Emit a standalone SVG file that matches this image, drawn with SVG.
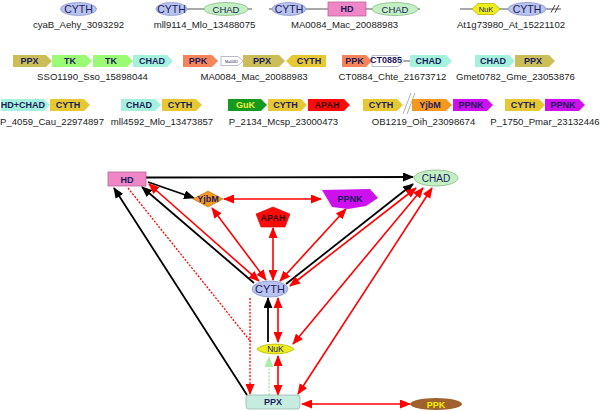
<svg xmlns="http://www.w3.org/2000/svg" width="600" height="411" viewBox="0 0 600 411">
<style>
text{font-family:"Liberation Sans",Arial,sans-serif;fill:#1c1c5c;text-anchor:middle}
.lbl{font-size:9.6px;fill:#222}
.b{font-weight:bold;font-size:9px}
.cyth{fill:#b9c3ef;stroke:#8a96cc;stroke-width:0.8}
.chadE{fill:#c3f0c3;stroke:#86b886;stroke-width:0.8}
.hd{fill:#ef86c6;stroke:#b86898;stroke-width:0.8}
.nuk{fill:#eeee1e;stroke:#b8b800;stroke-width:0.8}
.ppx{fill:#cbbd58}
.tk{fill:#9cfb74}
.chad{fill:#a4f2de}
.ppk{fill:#f5845a}
.gold{fill:#e6c832}
.guk{fill:#149a1e}
.apah{fill:#ff0a0a}
.yjbm{fill:#f5981e}
.ppnk{fill:#cc11ee}
.wht{fill:#fff;stroke:#8a8ab0;stroke-width:0.6}
.ln{stroke:#555;stroke-width:1;fill:none}
.blk{stroke:#000;stroke-width:1.8;fill:none}
.red{stroke:#ff0000;stroke-width:1.6;fill:none}
.rdot{stroke:#ff0000;stroke-width:1.3;stroke-dasharray:2 1.5;fill:none}
.gdot{stroke:#a8f0a8;stroke-width:1.5;stroke-dasharray:2 1.5;fill:none}
</style>
<defs>
<marker id="ak" markerUnits="userSpaceOnUse" markerWidth="11" markerHeight="9" refX="10" refY="4.5" orient="auto-start-reverse"><path d="M0,0 L11,4.5 L0,9 z" fill="#000"/></marker>
<marker id="ar" markerUnits="userSpaceOnUse" markerWidth="11" markerHeight="9" refX="10" refY="4.5" orient="auto-start-reverse"><path d="M0,0 L11,4.5 L0,9 z" fill="#ff0000"/></marker>
<marker id="ag" markerUnits="userSpaceOnUse" markerWidth="11" markerHeight="9" refX="10" refY="4.5" orient="auto-start-reverse"><path d="M0,0 L11,4.5 L0,9 z" fill="#a8f0a8"/></marker>
</defs>

<!-- Row 1 -->
<g id="cyaB">
<ellipse class="cyth" cx="78.5" cy="9" rx="18" ry="6.5"/>
<text x="78.5" y="13" font-size="10.5">CYTH</text>
<text class="lbl" x="78.5" y="28">cyaB_Aehy_3093292</text>
</g>
<g id="mll9114">
<line class="ln" x1="187" y1="9" x2="252" y2="9"/>
<ellipse class="cyth" cx="171.5" cy="9" rx="15.5" ry="6.5"/>
<text x="171.5" y="13" font-size="10.5">CYTH</text>
<ellipse class="chadE" cx="226" cy="9" rx="22" ry="6.5"/>
<text x="226" y="12.5" font-size="9.5">CHAD</text>
<text class="lbl" x="204.5" y="28">mll9114_Mlo_13488075</text>
</g>
<g id="MA0084a">
<line class="ln" x1="269" y1="9" x2="420" y2="9"/>
<ellipse class="cyth" cx="289" cy="9" rx="17" ry="6.5"/>
<text x="289" y="13" font-size="10.5">CYTH</text>
<rect class="hd" x="328" y="2" width="38" height="14"/>
<text class="b" x="347" y="12.3">HD</text>
<ellipse class="chadE" cx="395" cy="9" rx="23" ry="6.5"/>
<text x="395" y="12.5" font-size="9.5">CHAD</text>
<text class="lbl" x="344.5" y="28">MA0084_Mac_20088983</text>
</g>
<g id="At1g73980">
<line class="ln" x1="460" y1="9" x2="561" y2="9"/>
<path class="nuk" d="M472,9 L478,3.5 L494,3.5 L500,9 L494,14.5 L478,14.5 Z"/>
<text x="486" y="12" font-size="7.5">NuK</text>
<ellipse class="cyth" cx="527" cy="9" rx="19" ry="6.5"/>
<text x="527" y="13" font-size="10.5">CYTH</text>
<path d="M551,12.5 L555,5 M555,12.5 L559,5" stroke="#333" stroke-width="0.9"/>
<text class="lbl" x="511" y="28">At1g73980_At_15221102</text>
</g>

<!-- Row 2 -->
<g id="SSO1190">
<polygon class="ppx" points="13,55 46,55 52,61 46,67 13,67"/>
<polygon class="tk" points="52,55 86,55 92,61 86,67 52,67"/>
<polygon class="tk" points="93,55 127,55 133,61 127,67 93,67"/>
<polygon class="chad" points="133,55 167,55 173,61 167,67 133,67"/>
<text class="b" x="29.5" y="64.3">PPX</text>
<text class="b" x="70" y="64.3">TK</text>
<text class="b" x="111" y="64.3">TK</text>
<text class="b" x="152" y="64.3">CHAD</text>
<text class="lbl" x="92.5" y="80">SSO1190_Sso_15898044</text>
</g>
<g id="MA0084b">
<polygon class="ppk" points="183,55 212,55 218,61 212,67 183,67"/>
<polygon class="wht" points="221,56.5 238,56.5 243,61 238,65.5 221,65.5"/>
<polygon class="ppx" points="243,55 279,55 285,61 279,67 243,67"/>
<polygon class="gold" points="286,61 292,55 326,55 326,67 292,67"/>
<text class="b" x="198" y="64.3">PPK</text>
<text x="231.5" y="62.5" font-size="3.6">Ma0082</text>
<text class="b" x="262" y="64.3">PPX</text>
<text class="b" x="309" y="64.3">CYTH</text>
<text class="lbl" x="254" y="80">MA0084_Mac_20088983</text>
</g>
<g id="CT0884">
<polygon class="ppk" points="342,55 366,55 372,61 366,67 342,67"/>
<polygon class="wht" points="372,55.5 398,55.5 404,61 398,66.5 372,66.5"/>
<line class="ln" x1="404" y1="61" x2="410" y2="61"/>
<polygon class="chad" points="410,55 446,55 452,61 446,67 410,67"/>
<text class="b" x="354.5" y="64.3">PPK</text>
<text class="b" x="386" y="63.3" font-size="5.4">CT0885</text>
<text class="b" x="428.5" y="64.3">CHAD</text>
<text class="lbl" x="392.5" y="80">CT0884_Chte_21673712</text>
</g>
<g id="Gmet0782">
<polygon class="chad" points="475,55 509,55 515,61 509,67 475,67"/>
<polygon class="ppx" points="515,55 549,55 555,61 549,67 515,67"/>
<text class="b" x="493" y="64.3">CHAD</text>
<text class="b" x="533" y="64.3">PPX</text>
<text class="lbl" x="515.5" y="79.5">Gmet0782_Gme_23053876</text>
</g>

<!-- Row 3 -->
<g id="P_4059">
<polygon class="chad" points="1,99 44,99 50,105 44,111 1,111"/>
<polygon class="gold" points="50,99 84,99 90,105 84,111 50,111"/>
<text class="b" x="23" y="108.2" font-size="8.4">HD+CHAD</text>
<text class="b" x="68" y="108.3">CYTH</text>
<text class="lbl" x="52" y="125">P_4059_Cau_22974897</text>
</g>
<g id="mll4592">
<polygon class="chad" points="121,99 155,99 161,105 155,111 121,111"/>
<polygon class="gold" points="162,99 196,99 202,105 196,111 162,111"/>
<text class="b" x="139" y="108.3">CHAD</text>
<text class="b" x="180" y="108.3">CYTH</text>
<text class="lbl" x="162" y="125">mll4592_Mlo_13473857</text>
</g>
<g id="P_2134">
<polygon class="guk" points="228,99 261,99 267,105 261,111 228,111"/>
<polygon class="gold" points="268,99 301,99 307,105 301,111 268,111"/>
<polygon class="apah" points="308,99 344,99 350,105 344,111 308,111"/>
<text class="b" x="245.5" y="108.3" style="fill:#f0f040">GuK</text>
<text class="b" x="285.5" y="108.3">CYTH</text>
<text class="b" x="327" y="108.3" style="fill:#3a0000">APAH</text>
<text class="lbl" x="283.5" y="125">P_2134_Mcsp_23000473</text>
</g>
<g id="OB1219">
<polygon class="gold" points="363,99 397,99 403,105 397,111 363,111"/>
<path d="M403,114 L411,93 M407,114 L415,93" stroke="#999" stroke-width="0.8"/>
<polygon class="yjbm" points="412,99 446,99 452,105 446,111 412,111"/>
<polygon class="ppnk" points="453,99 487,99 493,105 487,111 453,111"/>
<text class="b" x="381" y="108.3">CYTH</text>
<text class="b" x="430" y="108.3">YjbM</text>
<text class="b" x="471" y="108.3">PPNK</text>
<text class="lbl" x="423.5" y="125">OB1219_Oih_23098674</text>
</g>
<g id="P_1750">
<polygon class="gold" points="505,99 539,99 545,105 539,111 505,111"/>
<polygon class="ppnk" points="545,99 579,99 585,105 579,111 545,111"/>
<text class="b" x="523" y="108.3">CYTH</text>
<text class="b" x="563" y="108.3">PPNK</text>
<text class="lbl" x="545" y="124.5">P_1750_Pmar_23132446</text>
</g>

<!-- Connectors -->
<g id="connectors">
<line class="rdot" x1="128" y1="188" x2="251" y2="342"/>
<line class="rdot" x1="250" y1="298" x2="250" y2="394" marker-end="url(#ar)"/>
<line class="gdot" x1="269" y1="395" x2="269" y2="357" marker-end="url(#ag)"/>
<line class="blk" x1="146" y1="177.5" x2="413" y2="177" marker-end="url(#ak)"/>
<line class="blk" x1="148" y1="182" x2="194" y2="198" marker-end="url(#ak)"/>
<line class="blk" x1="254" y1="283" x2="142" y2="187" marker-end="url(#ak)"/>
<line class="blk" x1="247" y1="395" x2="114" y2="188" marker-end="url(#ak)"/>
<line class="blk" x1="286" y1="284" x2="413" y2="184" marker-end="url(#ak)"/>
<line class="blk" x1="268" y1="342" x2="268" y2="298" marker-end="url(#ak)"/>
<line class="red" x1="149" y1="184" x2="259" y2="281" marker-start="url(#ar)" marker-end="url(#ar)"/>
<line class="red" x1="224" y1="199" x2="321" y2="199" marker-start="url(#ar)" marker-end="url(#ar)"/>
<line class="red" x1="212" y1="208" x2="266" y2="280" marker-start="url(#ar)" marker-end="url(#ar)"/>
<line class="red" x1="273" y1="228" x2="273" y2="280" marker-start="url(#ar)" marker-end="url(#ar)"/>
<line class="red" x1="346" y1="209" x2="280" y2="281" marker-start="url(#ar)" marker-end="url(#ar)"/>
<line class="red" x1="416" y1="188" x2="290" y2="286" marker-start="url(#ar)" marker-end="url(#ar)"/>
<line class="red" x1="423" y1="188" x2="293" y2="344" marker-start="url(#ar)" marker-end="url(#ar)"/>
<line class="red" x1="432" y1="188" x2="298" y2="394" marker-start="url(#ar)" marker-end="url(#ar)"/>
<line class="red" x1="278" y1="298" x2="278" y2="342" marker-start="url(#ar)" marker-end="url(#ar)"/>
<line class="red" x1="278" y1="356" x2="278" y2="395" marker-start="url(#ar)" marker-end="url(#ar)"/>
<line class="red" x1="302" y1="404" x2="410" y2="404" marker-start="url(#ar)" marker-end="url(#ar)"/>
</g>

<!-- Graph nodes -->
<g id="HD">
<rect class="hd" x="108" y="172" width="38" height="14"/>
<text class="b" x="127" y="182.5" font-size="10">HD</text>
</g>
<g id="CHAD">
<ellipse class="chadE" cx="436" cy="178" rx="22" ry="8"/>
<text x="436" y="181.5" font-size="10">CHAD</text>
</g>
<g id="YjbM">
<polygon class="yjbm" points="208,191 223,199 208,207 193,199" stroke="#b87010" stroke-width="0.6"/>
<text class="b" x="208" y="201.5" font-size="7">YjbM</text>
</g>
<g id="APAH">
<polygon class="apah" points="273,207 290,214 285,227 261,227 256,214" stroke="#c00" stroke-width="0.6"/>
<text class="b" x="273" y="220.5" font-size="8.5" style="fill:#3a0000">APAH</text>
</g>
<g id="PPNK">
<polygon class="ppnk" points="322,190 370,189 378,198 366,206 348,209 332,207"/>
<text class="b" x="350" y="201.5">PPNK</text>
</g>
<g id="CYTH">
<ellipse class="cyth" cx="270" cy="289" rx="18" ry="8"/>
<text x="270" y="293" font-size="11">CYTH</text>
</g>
<g id="NuK">
<path class="nuk" d="M257,349 C262,342.5 288,342.5 294,349 C288,355.5 262,355.5 257,349 Z"/>
<text x="275.5" y="352" font-size="8.5">NuK</text>
</g>
<g id="PPX">
<rect x="246" y="395" width="54" height="14" rx="3" fill="#c6ece0" stroke="#94b8ac" stroke-width="0.8"/>
<text class="b" x="273" y="405.3">PPX</text>
</g>
<g id="PPK">
<ellipse cx="436" cy="404" rx="26" ry="6" fill="#a0622c"/>
<text class="b" x="436" y="407.5" style="fill:#f4f000">PPK</text>
</g>
</svg>
